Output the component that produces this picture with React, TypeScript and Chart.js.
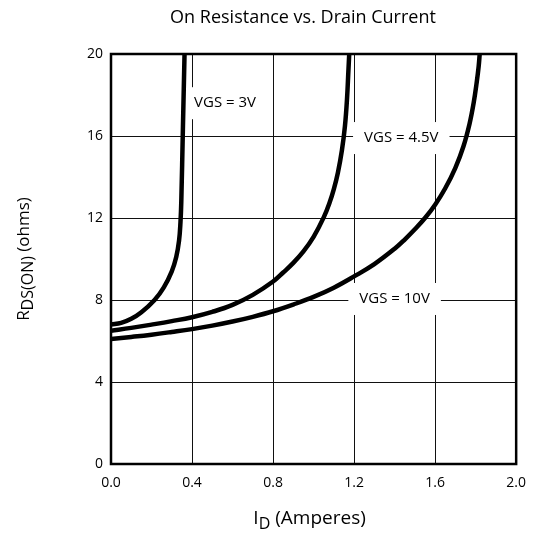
import React, { useEffect, useRef } from 'react';
import { Chart, registerables } from 'chart.js';

Chart.register(...registerables);

const FONT = '"Open Sans", "Noto Sans", sans-serif';

const chartTitle = 'On Resistance vs. Drain Current';
const xTicks = [0, 0.4, 0.8, 1.2, 1.6, 2.0];
const yTicks = [0, 4, 8, 12, 16, 20];

// VGS = 3V
const id3V = [0, 0.05, 0.1, 0.15, 0.215, 0.26, 0.3, 0.322, 0.336, 0.343, 0.347, 0.355, 0.363];
const r3V = [6.8, 6.88, 7.08, 7.4, 8.0, 8.6, 9.4, 10.1, 10.9, 11.8, 12.8, 16.4, 20];

// VGS = 4.5V
const id45V = [0, 0.1, 0.2, 0.3, 0.4, 0.5, 0.6, 0.7, 0.8, 0.85, 0.9, 0.95, 1.0, 1.05, 1.08, 1.1, 1.12, 1.14, 1.155, 1.165, 1.172, 1.176];
const r45V = [6.5, 6.64, 6.8, 6.97, 7.16, 7.42, 7.76, 8.25, 8.9, 9.34, 9.81, 10.37, 11.08, 12.03, 12.78, 13.41, 14.21, 15.31, 16.5, 17.8, 19.2, 20];

// VGS = 10V
const id10V = [0, 0.1, 0.2, 0.3, 0.4, 0.5, 0.6, 0.7, 0.8, 0.9, 1.0, 1.1, 1.2, 1.3, 1.4, 1.45, 1.5, 1.55, 1.6, 1.65, 1.7, 1.74, 1.77, 1.79, 1.805, 1.815, 1.82];
const r10V = [6.1, 6.2, 6.31, 6.44, 6.58, 6.75, 6.95, 7.18, 7.45, 7.78, 8.15, 8.6, 9.15, 9.75, 10.5, 10.95, 11.45, 12.0, 12.65, 13.45, 14.45, 15.5, 16.6, 17.6, 18.6, 19.4, 20];

const curveLabels = ['VGS = 3V', 'VGS = 4.5V', 'VGS = 10V'];
const labelAnchorId = [0.41, 1.433, 1.40];
const labelAnchorR = [17.6, 15.9, 8.05];
const labelAlign: CanvasTextAlign[] = ['left', 'center', 'center'];

const toPoints = (xs: number[], ys: number[]) => xs.map((x, i) => ({ x, y: ys[i] }));

const decorPlugin = {
  id: 'decor',
  beforeDatasetsDraw(chart: any) {
    const ctx = chart.ctx as CanvasRenderingContext2D;
    const xs = chart.scales.x;
    const ys = chart.scales.y;
    ctx.save();
    ctx.font = `15px ${FONT}`;
    ctx.textBaseline = 'middle';
    curveLabels.forEach((t, i) => {
      const px = xs.getPixelForValue(labelAnchorId[i]);
      const py = ys.getPixelForValue(labelAnchorR[i]);
      const w = ctx.measureText(t).width;
      const left = labelAlign[i] === 'left' ? px : px - w / 2;
      const padX = labelAlign[i] === 'left' ? 6 : 11;
      ctx.fillStyle = '#fff';
      ctx.fillRect(left - padX, py - 16, w + padX * 2, 32);
      ctx.fillStyle = '#000';
      ctx.textAlign = 'left';
      ctx.fillText(t, left, py);
    });
    ctx.restore();
  },
  afterDatasetsDraw(chart: any) {
    const ctx = chart.ctx as CanvasRenderingContext2D;
    const a = chart.chartArea;
    ctx.save();
    ctx.strokeStyle = '#000';
    ctx.lineWidth = 2.5;
    ctx.strokeRect(a.left, a.top, a.right - a.left, a.bottom - a.top);
    ctx.restore();
  },
  afterDraw(chart: any) {
    const ctx = chart.ctx as CanvasRenderingContext2D;
    const a = chart.chartArea;
    ctx.save();
    ctx.fillStyle = '#000';
    ctx.textBaseline = 'middle';
    ctx.textAlign = 'center';
    ctx.font = `18px ${FONT}`;
    ctx.fillText(chartTitle, 303, 18);

    const drawParts = (parts: [string, number, number][], cx: number, cy: number) => {
      let total = 0;
      parts.forEach(([t, size]) => {
        ctx.font = `${size}px ${FONT}`;
        total += ctx.measureText(t).width;
      });
      let x = cx - total / 2;
      ctx.textAlign = 'left';
      parts.forEach(([t, size, dy]) => {
        ctx.font = `${size}px ${FONT}`;
        ctx.fillText(t, x, cy + dy);
        x += ctx.measureText(t).width;
      });
    };

    // x axis title
    drawParts([['I', 19, 0], ['D', 16, 5], [' (Amperes)', 19, 0]], (a.left + a.right) / 2 - 4, 519);

    // y axis title
    ctx.translate(24, (a.top + a.bottom) / 2);
    ctx.rotate(-Math.PI / 2);
    drawParts([['R', 17, 0], ['DS(ON)', 16, 4], [' (ohms)', 17, 0]], 0, 0);
    ctx.restore();
  },
};

export default function App() {
  const ref = useRef<HTMLCanvasElement>(null);
  useEffect(() => {
    if (!ref.current) return;
    const lineStyle = {
      borderColor: '#000',
      borderWidth: 4.5,
      pointRadius: 0,
      fill: false,
      tension: 0.4,
      borderCapStyle: 'round' as const,
      borderJoinStyle: 'round' as const,
    };
    const chart = new Chart(ref.current, {
      type: 'line',
      data: {
        datasets: [
          { label: 'VGS = 3V', data: toPoints(id3V, r3V), ...lineStyle },
          { label: 'VGS = 4.5V', data: toPoints(id45V, r45V), ...lineStyle },
          { label: 'VGS = 10V', data: toPoints(id10V, r10V), ...lineStyle },
        ],
      },
      options: {
        animation: false,
        responsive: false,
        devicePixelRatio: 1,
        layout: { padding: { top: 54, right: 17, left: 0, bottom: 0 } },
        plugins: { legend: { display: false }, tooltip: { enabled: false }, title: { display: false } },
        scales: {
          x: {
            type: 'linear',
            min: 0,
            max: 2,
            afterBuildTicks: (s: any) => { s.ticks = xTicks.map((value) => ({ value })); },
            afterFit: (s: any) => { s.height = 69; },
            ticks: {
              callback: (v: any) => Number(v).toFixed(1),
              font: { family: FONT, size: 14 },
              color: '#000',
              padding: 11,
              maxRotation: 0,
              autoSkip: false,
            },
            grid: { color: '#111', lineWidth: 1, drawTicks: false },
            border: { display: false },
          },
          y: {
            type: 'linear',
            min: 0,
            max: 20,
            afterBuildTicks: (s: any) => { s.ticks = yTicks.map((value) => ({ value })); },
            afterFit: (s: any) => { s.width = 111; },
            ticks: {
              callback: (v: any) => String(v),
              font: { family: FONT, size: 14 },
              color: '#000',
              padding: 8,
              autoSkip: false,
            },
            grid: { color: '#111', lineWidth: 1, drawTicks: false },
            border: { display: false },
          },
        },
      },
      plugins: [decorPlugin],
    });
    return () => chart.destroy();
  }, []);
  return (
    <div style={{ position: 'fixed', left: 0, top: 0, width: 537, height: 533, background: '#fff' }}>
      <canvas ref={ref} width={537} height={533} style={{ display: 'block' }} />
    </div>
  );
}
